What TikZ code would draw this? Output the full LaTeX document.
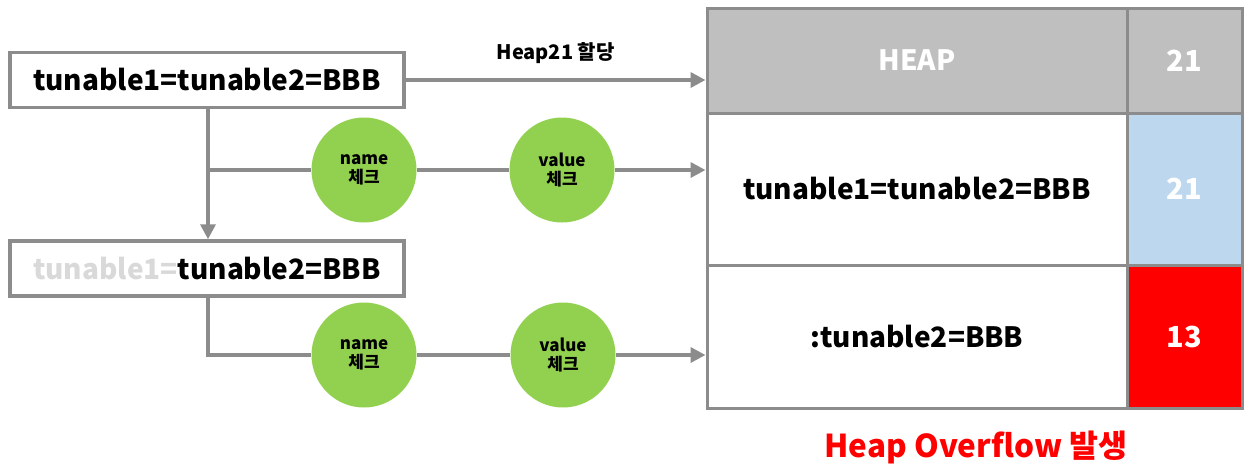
\documentclass[tikz,border=0pt]{standalone}
\usepackage{fontspec}
\setmainfont{Noto Sans CJK KR}
\usetikzlibrary{arrows.meta}
\definecolor{lgray}{HTML}{8C8C8C}
\definecolor{hdrgray}{HTML}{BFBFBF}
\definecolor{lblue}{HTML}{BDD7EE}
\definecolor{cgreen}{HTML}{92D050}
\definecolor{fadetext}{HTML}{D9D9D9}
\newcommand{\bigfont}{\bfseries\fontsize{28}{28}\selectfont}
\newcommand{\numfont}{\bfseries\fontsize{29}{29}\selectfont}
\tikzset{
  strbox/.style={draw=lgray, line width=3.5pt, fill=white, minimum width=394pt, minimum height=55pt, inner sep=0pt, font=\bigfont},
  check/.style={circle, fill=cgreen, minimum size=105pt, inner sep=0pt, align=center, font=\bfseries\fontsize{17}{19}\selectfont},
  cell/.style={draw=lgray, line width=3pt, inner sep=0pt},
  conn/.style={draw=lgray, line width=3.5pt, -{Triangle[length=15pt,width=15pt]}},
  plain/.style={draw=lgray, line width=3.5pt},
}
\begin{document}
\begin{tikzpicture}[x=1pt,y=-1pt]
\useasboundingbox (0,0) rectangle (1244,469);
% table
\node[cell, fill=hdrgray, minimum width=420pt, minimum height=105pt, text=white, font=\bigfont] (hdr) at (917,60.5) {HEAP};
\node[cell, fill=hdrgray, minimum width=115pt, minimum height=105pt, text=white, font=\numfont] (hnum) at (1184.5,60.5) {21};
\node[cell, fill=white, minimum width=420pt, minimum height=152pt, font=\bigfont] (r2) at (917,189) {tunable1=tunable2=BBB};
\node[cell, fill=lblue, minimum width=115pt, minimum height=152pt, text=white, font=\numfont] (r2num) at (1184.5,189) {21};
\node[cell, fill=white, minimum width=420pt, minimum height=143pt, font=\bigfont] (r3) at (917,336.5) {:tunable2=BBB};
\node[cell, fill=red, minimum width=115pt, minimum height=143pt, text=white, font=\numfont] (r3num) at (1184.5,336.5) {13};
\node[text=red, font=\bfseries\fontsize{31.5}{31.5}\selectfont] (ovf) at (976,447) {Heap Overflow 발생};
% left boxes
\node[strbox] (b1) at (207,80) {tunable1=tunable2=BBB};
\node[strbox] (b2) at (207,268.5) {\textcolor{fadetext}{tunable1=}tunable2=BBB};
% circles
\node[check] (n1) at (364,170) {name\\체크};
\node[check] (v1) at (562,170) {value\\체크};
\node[check] (n2) at (364,355) {name\\체크};
\node[check] (v2) at (563,355) {value\\체크};
\coordinate (k1) at (208,170);
\coordinate (k2) at (208,355);
% connectors
\draw[conn] (b1.east) -- node[above=11pt, font=\bfseries\fontsize{20}{20}\selectfont, text=black] (lbl) {Heap21 할당} (b1.east -| hdr.west);
\draw[conn] (b1.south -| k1) -- (b2.north -| k1);
\draw[plain] (k1) -- (n1);
\draw[plain] (n1) -- (v1);
\draw[conn] (v1) -- (v1 -| r2.west);
\draw[plain] (b2.south -| k2) -- (k2) -- (n2);
\draw[plain] (n2) -- (v2);
\draw[conn] (v2) -- (v2 -| r3.west);
\end{tikzpicture}
\end{document}
